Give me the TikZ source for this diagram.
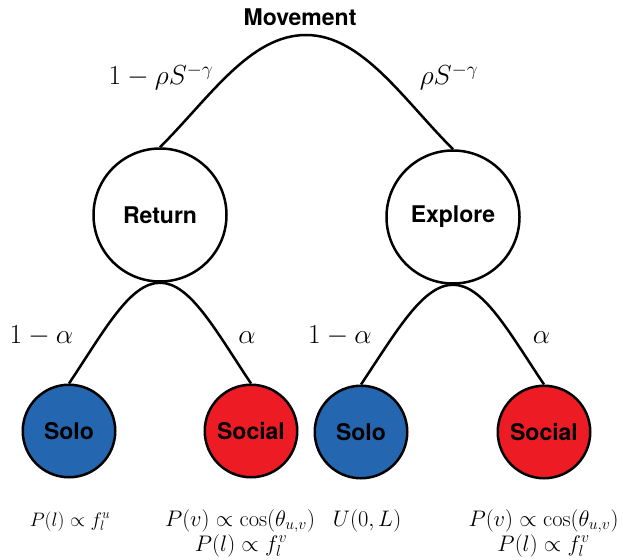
\documentclass[tikz,border=0pt]{standalone}
\usepackage{fix-cm}
\usepackage{fontspec}
\setsansfont{TeX Gyre Heros}
\definecolor{soloblue}{RGB}{37,102,176}
\definecolor{socialred}{RGB}{237,28,36}
\tikzset{
  bigcirc/.style={circle, draw, line width=2.5pt, minimum size=133pt, inner sep=0pt,
    font=\sffamily\bfseries\fontsize{23}{27}\selectfont},
  smallcirc/.style={circle, draw, line width=2.5pt, minimum size=92.5pt, inner sep=0pt,
    font=\sffamily\bfseries\fontsize{23}{27}\selectfont},
  titlelab/.style={anchor=base, inner sep=0pt, font=\sffamily\bfseries\fontsize{23}{27}\selectfont},
  branch/.style={line width=2.5pt},
  problab/.style={anchor=base, inner sep=0pt, font=\fontsize{27.5}{30}\selectfont},
  formlab/.style={anchor=base, inner sep=0pt, font=\fontsize{22.5}{26}\selectfont},
  formsmall/.style={anchor=base, inner sep=0pt, font=\fontsize{19.5}{23}\selectfont},
}
\begin{document}
\begin{tikzpicture}[x=1pt,y=-1pt]
\useasboundingbox (0,0) rectangle (623,559);
\node[bigcirc] (ret) at (160,215) {Return};
\node[bigcirc] (exp) at (453,217) {Explore};
\node[smallcirc, fill=soloblue] (solo1) at (69,431) {Solo};
\node[smallcirc, fill=socialred] (soc1) at (251,431) {Social};
\node[smallcirc, fill=soloblue] (solo2) at (361,432) {Solo};
\node[smallcirc, fill=socialred] (soc2) at (544,432) {Social};
\node[titlelab] (mov) at (300,26) {Movement};
\coordinate (peak) at (306,35);
\draw[branch] (ret.north) .. controls +(50,-50) and +(-56,0) .. (peak)
  .. controls +(56,0) and +(-50,-50) .. (exp.north);
\draw[branch] (solo1.north) .. controls +(36,-54) and +(-30,0) .. (ret.south)
  .. controls +(30,0) and +(-36,-54) .. (soc1.north);
\draw[branch] (solo2.north) .. controls +(36,-54) and +(-30,0) .. (exp.south)
  .. controls +(30,0) and +(-36,-54) .. (soc2.north);
\node[problab] (p1) at (161,85) {$1-\rho S^{-\gamma}$};
\node[problab] (p2) at (449,85) {$\rho S^{-\gamma}$};
\node[problab] (a1) at (41.5,343) {$1-\alpha$};
\node[problab] (a2) at (247,343) {$\alpha$};
\node[problab] (a3) at (340,343) {$1-\alpha$};
\node[problab] (a4) at (541.5,343) {$\alpha$};
\node[formsmall] (f1) at (70,526) {$P(l)\propto f_l^u$};
\node[formlab] (f2) at (240,526) {$P(v)\propto\cos(\theta_{u,v})$};
\node[formlab] (f3) at (241,551) {$P(l)\propto f_l^v$};
\node[formlab] (f4) at (367,526) {$U(0,L)$};
\node[formlab] (f5) at (543.5,526) {$P(v)\propto\cos(\theta_{u,v})$};
\node[formlab] (f6) at (543.5,551) {$P(l)\propto f_l^v$};
\end{tikzpicture}
\end{document}
